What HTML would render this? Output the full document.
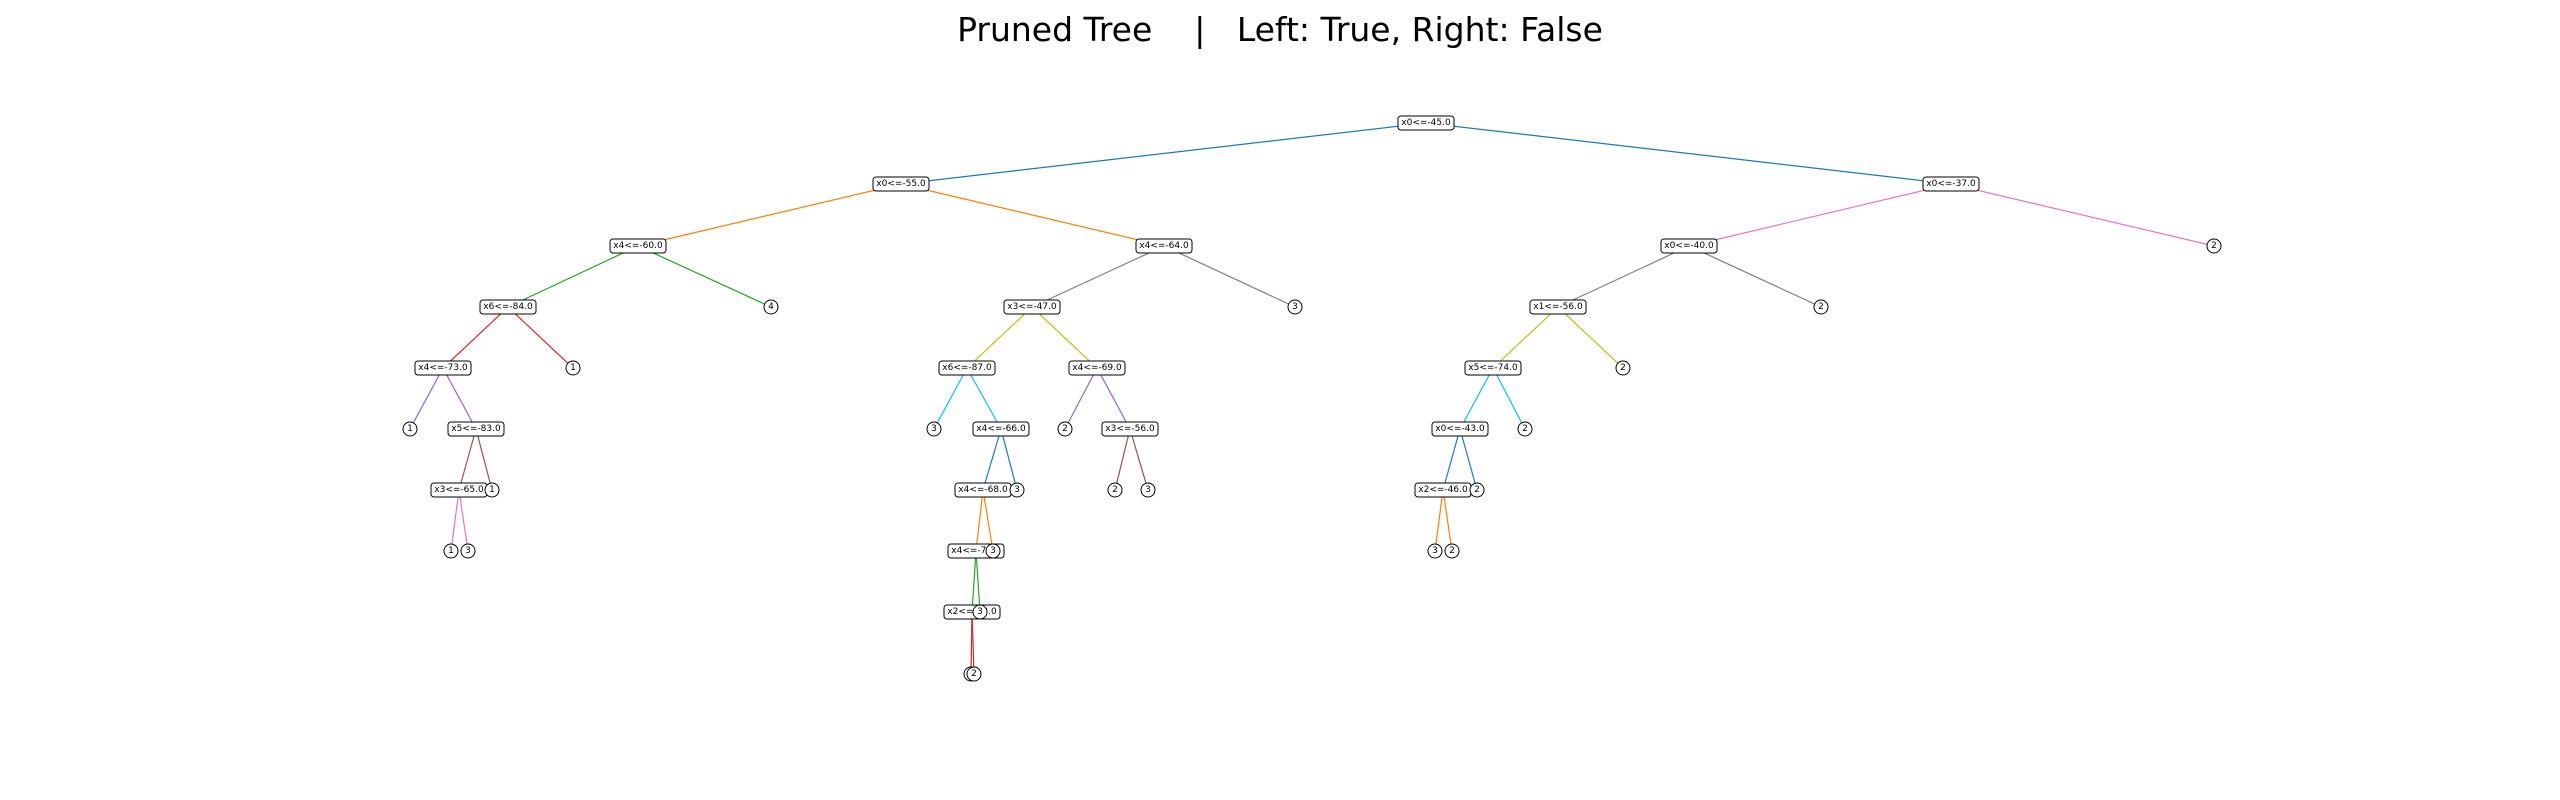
<!DOCTYPE html>
<html><head><meta charset="utf-8"><style>
html,body{margin:0;padding:0;background:#fff;}
svg{display:block;}
text{font-family:"DejaVu Sans","Liberation Sans",sans-serif;}
.n rect{fill:#fff;stroke:#000;stroke-width:1;}
.n text,.l text{font-size:9px;text-anchor:middle;dominant-baseline:central;fill:#000;}
.l circle{fill:#fff;stroke:#000;stroke-width:1;}
line{stroke-width:1.2;}
</style></head><body>
<svg width="2560" height="800" viewBox="0 0 2560 800">
<text x="1280" y="41" font-size="33" text-anchor="middle" fill="#000" style="white-space:pre" xml:space="preserve">Pruned Tree    |   Left: True, Right: False</text>
<g transform="translate(0,1)">
<g>
<line x1="1426" y1="122" x2="901" y2="183" stroke="#1f77b4"/>
<line x1="1426" y1="122" x2="1951" y2="183" stroke="#1f77b4"/>
<line x1="901" y1="183" x2="638" y2="245" stroke="#ff7f0e"/>
<line x1="901" y1="183" x2="1164" y2="245" stroke="#ff7f0e"/>
<line x1="638" y1="245" x2="508" y2="306" stroke="#2ca02c"/>
<line x1="638" y1="245" x2="771" y2="306" stroke="#2ca02c"/>
<line x1="508" y1="306" x2="443" y2="367" stroke="#d62728"/>
<line x1="508" y1="306" x2="573" y2="367" stroke="#d62728"/>
<line x1="443" y1="367" x2="410" y2="428" stroke="#9467bd"/>
<line x1="443" y1="367" x2="476" y2="428" stroke="#9467bd"/>
<line x1="476" y1="428" x2="459" y2="489" stroke="#8c564b"/>
<line x1="476" y1="428" x2="492" y2="489" stroke="#8c564b"/>
<line x1="459" y1="489" x2="451" y2="550" stroke="#e377c2"/>
<line x1="459" y1="489" x2="468" y2="550" stroke="#e377c2"/>
<line x1="1164" y1="245" x2="1032" y2="306" stroke="#7f7f7f"/>
<line x1="1164" y1="245" x2="1295" y2="306" stroke="#7f7f7f"/>
<line x1="1032" y1="306" x2="967" y2="367" stroke="#bcbd22"/>
<line x1="1032" y1="306" x2="1097" y2="367" stroke="#bcbd22"/>
<line x1="967" y1="367" x2="934" y2="428" stroke="#17becf"/>
<line x1="967" y1="367" x2="1001" y2="428" stroke="#17becf"/>
<line x1="1001" y1="428" x2="983" y2="489" stroke="#1f77b4"/>
<line x1="1001" y1="428" x2="1017" y2="489" stroke="#1f77b4"/>
<line x1="983" y1="489" x2="976" y2="550" stroke="#ff7f0e"/>
<line x1="983" y1="489" x2="993" y2="550" stroke="#ff7f0e"/>
<line x1="976" y1="550" x2="972" y2="611" stroke="#2ca02c"/>
<line x1="976" y1="550" x2="980" y2="611" stroke="#2ca02c"/>
<line x1="972" y1="611" x2="971" y2="673" stroke="#d62728"/>
<line x1="972" y1="611" x2="974" y2="673" stroke="#d62728"/>
<line x1="1097" y1="367" x2="1065" y2="428" stroke="#9467bd"/>
<line x1="1097" y1="367" x2="1130" y2="428" stroke="#9467bd"/>
<line x1="1130" y1="428" x2="1115" y2="489" stroke="#8c564b"/>
<line x1="1130" y1="428" x2="1148" y2="489" stroke="#8c564b"/>
<line x1="1951" y1="183" x2="1689" y2="245" stroke="#e377c2"/>
<line x1="1951" y1="183" x2="2214" y2="245" stroke="#e377c2"/>
<line x1="1689" y1="245" x2="1558" y2="306" stroke="#7f7f7f"/>
<line x1="1689" y1="245" x2="1821" y2="306" stroke="#7f7f7f"/>
<line x1="1558" y1="306" x2="1493" y2="367" stroke="#bcbd22"/>
<line x1="1558" y1="306" x2="1623" y2="367" stroke="#bcbd22"/>
<line x1="1493" y1="367" x2="1460" y2="428" stroke="#17becf"/>
<line x1="1493" y1="367" x2="1525" y2="428" stroke="#17becf"/>
<line x1="1460" y1="428" x2="1443" y2="489" stroke="#1f77b4"/>
<line x1="1460" y1="428" x2="1477" y2="489" stroke="#1f77b4"/>
<line x1="1443" y1="489" x2="1435" y2="550" stroke="#ff7f0e"/>
<line x1="1443" y1="489" x2="1452" y2="550" stroke="#ff7f0e"/>
</g>
<g class="n">
<rect x="1398" y="115" width="56" height="14" rx="3"/><text x="1426" y="122">x0&lt;=-45.0</text>
<rect x="873" y="176" width="56" height="14" rx="3"/><text x="901" y="183">x0&lt;=-55.0</text>
<rect x="1923" y="176" width="56" height="14" rx="3"/><text x="1951" y="183">x0&lt;=-37.0</text>
<rect x="610" y="238" width="56" height="14" rx="3"/><text x="638" y="245">x4&lt;=-60.0</text>
<rect x="1136" y="238" width="56" height="14" rx="3"/><text x="1164" y="245">x4&lt;=-64.0</text>
<rect x="1661" y="238" width="56" height="14" rx="3"/><text x="1689" y="245">x0&lt;=-40.0</text>
<rect x="480" y="299" width="56" height="14" rx="3"/><text x="508" y="306">x6&lt;=-84.0</text>
<rect x="1004" y="299" width="56" height="14" rx="3"/><text x="1032" y="306">x3&lt;=-47.0</text>
<rect x="1530" y="299" width="56" height="14" rx="3"/><text x="1558" y="306">x1&lt;=-56.0</text>
<rect x="415" y="360" width="56" height="14" rx="3"/><text x="443" y="367">x4&lt;=-73.0</text>
<rect x="939" y="360" width="56" height="14" rx="3"/><text x="967" y="367">x6&lt;=-87.0</text>
<rect x="1069" y="360" width="56" height="14" rx="3"/><text x="1097" y="367">x4&lt;=-69.0</text>
<rect x="1465" y="360" width="56" height="14" rx="3"/><text x="1493" y="367">x5&lt;=-74.0</text>
<rect x="448" y="421" width="56" height="14" rx="3"/><text x="476" y="428">x5&lt;=-83.0</text>
<rect x="973" y="421" width="56" height="14" rx="3"/><text x="1001" y="428">x4&lt;=-66.0</text>
<rect x="1102" y="421" width="56" height="14" rx="3"/><text x="1130" y="428">x3&lt;=-56.0</text>
<rect x="1432" y="421" width="56" height="14" rx="3"/><text x="1460" y="428">x0&lt;=-43.0</text>
<rect x="431" y="482" width="56" height="14" rx="3"/><text x="459" y="489">x3&lt;=-65.0</text>
<rect x="955" y="482" width="56" height="14" rx="3"/><text x="983" y="489">x4&lt;=-68.0</text>
<rect x="1415" y="482" width="56" height="14" rx="3"/><text x="1443" y="489">x2&lt;=-46.0</text>
<rect x="948" y="543" width="56" height="14" rx="3"/><text x="976" y="550">x4&lt;=-70.0</text>
<rect x="944" y="604" width="56" height="14" rx="3"/><text x="972" y="611">x2&lt;=-73.0</text>
</g>
<g class="l">
<circle cx="2214" cy="245" r="7"/><text x="2214" y="245">2</text>
<circle cx="771" cy="306" r="7"/><text x="771" y="306">4</text>
<circle cx="1295" cy="306" r="7"/><text x="1295" y="306">3</text>
<circle cx="1821" cy="306" r="7"/><text x="1821" y="306">2</text>
<circle cx="573" cy="367" r="7"/><text x="573" y="367">1</text>
<circle cx="1623" cy="367" r="7"/><text x="1623" y="367">2</text>
<circle cx="410" cy="428" r="7"/><text x="410" y="428">1</text>
<circle cx="934" cy="428" r="7"/><text x="934" y="428">3</text>
<circle cx="1065" cy="428" r="7"/><text x="1065" y="428">2</text>
<circle cx="1525" cy="428" r="7"/><text x="1525" y="428">2</text>
<circle cx="492" cy="489" r="7"/><text x="492" y="489">1</text>
<circle cx="1017" cy="489" r="7"/><text x="1017" y="489">3</text>
<circle cx="1115" cy="489" r="7"/><text x="1115" y="489">2</text>
<circle cx="1148" cy="489" r="7"/><text x="1148" y="489">3</text>
<circle cx="1477" cy="489" r="7"/><text x="1477" y="489">2</text>
<circle cx="451" cy="550" r="7"/><text x="451" y="550">1</text>
<circle cx="468" cy="550" r="7"/><text x="468" y="550">3</text>
<circle cx="993" cy="550" r="7"/><text x="993" y="550">3</text>
<circle cx="1435" cy="550" r="7"/><text x="1435" y="550">3</text>
<circle cx="1452" cy="550" r="7"/><text x="1452" y="550">2</text>
<circle cx="980" cy="611" r="7"/><text x="980" y="611">3</text>
<circle cx="971" cy="673" r="7"/><text x="971" y="673">3</text>
<circle cx="974" cy="673" r="7"/><text x="974" y="673">2</text>
</g>
</g>
</svg>
</body></html>
